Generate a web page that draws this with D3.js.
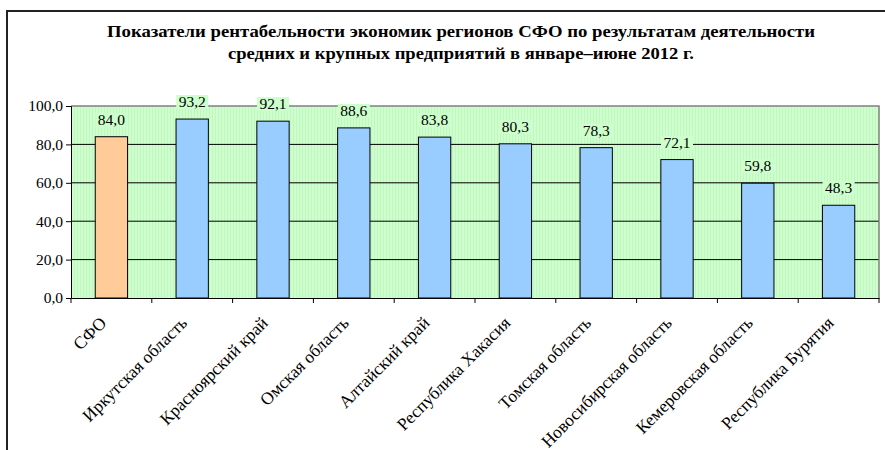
<!DOCTYPE html>
<html lang="ru">
<head>
<meta charset="utf-8">
<title>Рентабельность регионов СФО</title>
<script src="https://d3js.org/d3.v7.min.js"></script>
<style>
  body { margin: 0; background: #fff; }
</style>
</head>
<body>
<div id="chart"></div>
<script>
// data
var regions = ["СФО", "Иркутская область", "Красноярский край", "Омская область",
  "Алтайский край", "Республика Хакасия", "Томская область",
  "Новосибирская область", "Кемеровская область", "Республика Бурятия"];
var values = [84.0, 93.2, 92.1, 88.6, 83.8, 80.3, 78.3, 72.1, 59.8, 48.3];
var yTicks = [0, 20, 40, 60, 80, 100];
var titleLines = ["Показатели рентабельности экономик регионов СФО по результатам деятельности",
  "средних и крупных предприятий в январе–июне 2012 г."];

var W = 885, H = 450;
var margin = {top: 106, right: 6, bottom: 152, left: 71},
    width = W - margin.left - margin.right,
    height = H - margin.top - margin.bottom;

var serif = "'Liberation Serif', 'Times New Roman', serif";
var fmt = function(d) { return d3.format(".1f")(d).replace(".", ","); };

var root = d3.select("#chart").append("svg")
  .attr("width", W).attr("height", H)
  .attr("font-family", serif);

// outer frame (left + top only visible)
root.append("path")
  .attr("d", "M7,450 V11 H885")
  .attr("fill", "none").attr("stroke", "#222").attr("stroke-width", 2);

// title
root.selectAll(".title").data(titleLines).enter().append("text")
  .attr("class", "title")
  .attr("x", 461).attr("y", function(d, i) { return 37 + i * 22; })
  .attr("text-anchor", "middle")
  .style("font-family", serif)
  .style("font-size", "17px").style("font-weight", "bold")
  .attr("textLength", function(d, i) { return i == 0 ? 708 : 466; })
  .attr("lengthAdjust", "spacingAndGlyphs")
  .text(function(d) { return d; });

var defs = root.append("defs");
var pat = defs.append("pattern").attr("id", "hatch")
  .attr("width", 3).attr("height", 3).attr("patternUnits", "userSpaceOnUse");
pat.append("rect").attr("width", 3).attr("height", 3).attr("fill", "#ccffcc");
pat.append("rect").attr("width", 1).attr("height", 3).attr("fill", "#c2f5c2");

var svg = root.append("g")
  .attr("transform", "translate(" + margin.left + "," + margin.top + ")");

var x = d3.scaleBand().domain(regions).range([0, width]).paddingInner(0).paddingOuter(0);
var y = d3.scaleLinear().domain([0, 100]).range([height, 0]);
var barW = x.bandwidth() * 0.4;

svg.append("rect")
  .attr("width", width).attr("height", height)
  .attr("fill", "url(#hatch)");

// gridlines
svg.selectAll(".grid").data(yTicks.filter(function(t) { return t > 0 && t < 100; }))
  .enter().append("line")
  .attr("x1", 0).attr("x2", width)
  .attr("y1", function(d) { return y(d); }).attr("y2", function(d) { return y(d); })
  .attr("stroke", "#000").attr("stroke-width", 1);

// plot border top/right
svg.append("path")
  .attr("d", "M0," + y(100) + " H" + width + " V" + height)
  .attr("fill", "none").attr("stroke", "#808080").attr("stroke-width", 1.5);

// bars
svg.selectAll(".bar").data(values).enter().append("rect")
  .attr("x", function(d, i) { return x(regions[i]) + (x.bandwidth() - barW) / 2; })
  .attr("y", function(d) { return y(d); })
  .attr("width", barW)
  .attr("height", function(d) { return height - y(d); })
  .attr("fill", function(d, i) { return i == 0 ? "#ffcc99" : "#99ccff"; })
  .attr("stroke", "#000").attr("stroke-width", 1);

// value labels with background
var lab = svg.selectAll(".lab").data(values).enter().append("g")
  .attr("transform", function(d, i) {
    return "translate(" + (x(regions[i]) + x.bandwidth() / 2) + "," + (y(d) - 12) + ")";
  });
lab.append("rect")
  .attr("x", -16).attr("y", -12).attr("width", 32).attr("height", 14)
  .attr("fill", "#ccffcc");
lab.append("text")
  .attr("text-anchor", "middle").attr("y", 0)
  .style("font-family", serif)
  .style("font-size", "15.5px")
  .text(fmt);

// y axis
var yAxis = svg.append("g")
  .call(d3.axisLeft(y).tickValues(yTicks).tickSize(5).tickPadding(3).tickFormat(fmt));
yAxis.select(".domain").attr("stroke", "#000");
yAxis.selectAll("text").style("font-family", serif).style("font-size", "15.5px");

// x axis
var xAxis = svg.append("g")
  .attr("transform", "translate(0," + height + ")")
  .call(d3.axisBottom(x).tickSize(0).tickFormat(""));
xAxis.select(".domain").attr("stroke", "#000");
svg.selectAll(".xt").data(d3.range(regions.length + 1)).enter().append("line")
  .attr("x1", function(i) { return i * x.step(); })
  .attr("x2", function(i) { return i * x.step(); })
  .attr("y1", height).attr("y2", height + 5)
  .attr("stroke", "#000");

svg.selectAll(".xl").data(regions).enter().append("text")
  .attr("transform", function(d) {
    return "translate(" + (x(d) + x.bandwidth() / 2 - 4) + "," + (height + 26) + ") rotate(-45)";
  })
  .attr("text-anchor", "end")
  .style("font-family", serif)
  .style("font-size", "17.5px")
  .text(function(d) { return d; });
</script>
</body>
</html>
